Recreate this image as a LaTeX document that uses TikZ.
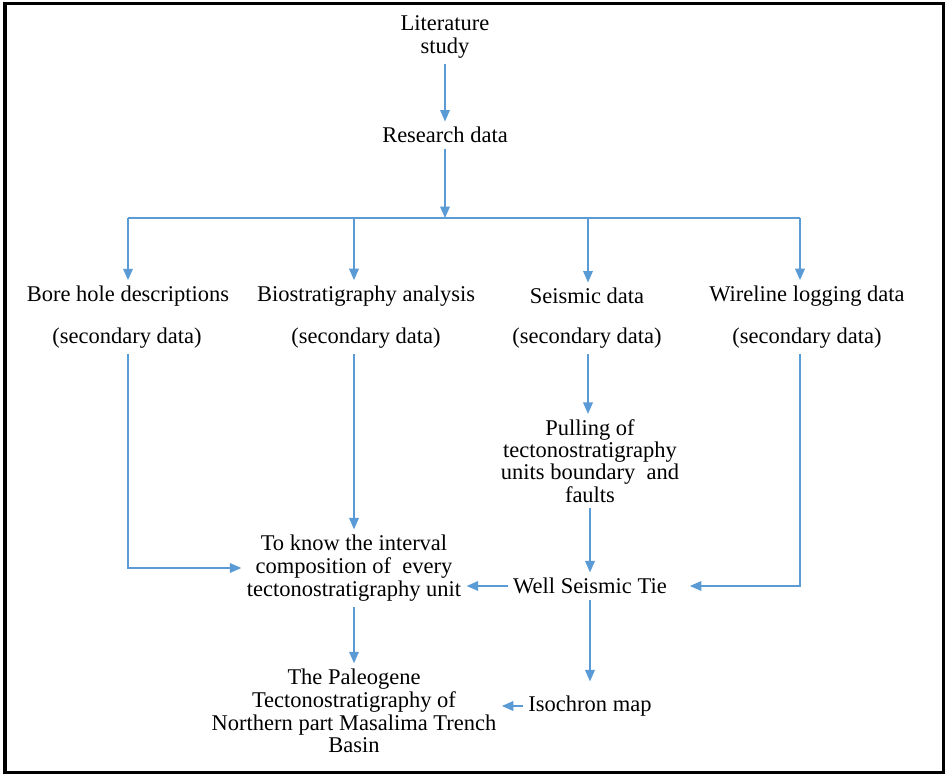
\documentclass[tikz,border=0pt]{standalone}
\usepackage{fontspec}
\setmainfont{Liberation Serif}
\usepackage{tikz}
\usetikzlibrary{arrows.meta, positioning, calc}
\definecolor{lineblue}{RGB}{91,155,213}

\begin{document}
\begin{tikzpicture}[x=0.02cm, y=-0.02cm,
    lbl/.style={align=center, inner sep=3pt, font=\fontsize{12.8}{13}\selectfont},
    arr/.style={draw=lineblue, line width=0.8pt, -{Triangle[length=6.5pt, width=5.5pt]}},
    ln/.style={draw=lineblue, line width=0.8pt}]
    \useasboundingbox (0,0) rectangle (947,776);

    % Outer frame
    \draw[line width=2pt] (5,3.5) rectangle (943.5,772.5);

    % Top of the flow
    \node[lbl] (lit) at (445,37) {Literature\\study};
    \node[lbl] (res) at (445,135) {Research data};
    \draw[arr] (lit) -- (res); % Literature study -> Research data

    % Split bar with four columns
    \coordinate (bar) at (445,218);
    \coordinate (c1) at (128,218);
    \coordinate (c2) at (354,218);
    \coordinate (c3) at (588,218);
    \coordinate (c4) at (800,218);
    \draw[arr] (res) -- (bar);
    \draw[ln] (c1) -- (c4);

    % Data sources
    \node[lbl] (bore) at (128,296) {Bore hole descriptions};
    \node[lbl] (bio) at (366,296) {Biostratigraphy analysis};
    \node[lbl] (seis) at (587,296) {Seismic data};
    \node[lbl] (wire) at (807,296) {Wireline logging data};
    \node[lbl] (boresec) at (127,338) {(secondary data)};
    \node[lbl] (biosec) at (366,338) {(secondary data)};
    \node[lbl] (seissec) at (587,338) {(secondary data)};
    \node[lbl] (wiresec) at (807,338) {(secondary data)};
    \draw[arr] (c1) -- (c1 |- bore.north);
    \draw[arr] (c2) -- (c2 |- bio.north);
    \draw[arr] (c3) -- (c3 |- seis.north);
    \draw[arr] (c4) -- (c4 |- wire.north);

    % Seismic branch
    \node[lbl, font=\fontsize{12.8}{11}\selectfont] (pull) at (590,461)
        {Pulling of\\tectonostratigraphy\\units boundary~ and\\faults};
    \node[lbl] (tie) at (590,586) {Well Seismic Tie};
    \node[lbl] (iso) at (590,706) {Isochron map};
    \draw[arr] (c3 |- seissec.south) -- (c3 |- pull.north);
    \draw[arr] (pull) -- (tie);
    \draw[arr, shorten >=5pt] (tie) -- (iso);

    % Interval composition and result
    \node[lbl] (know) at (354,568)
        {To know the interval\\composition of~ every\\tectonostratigraphy unit};
    \node[lbl] (pal) at (354,711)
        {The Paleogene\\Tectonostratigraphy of\\Northern part Masalima Trench\\Basin};
    \draw[arr] (c2 |- biosec.south) -- (c2 |- know.north);
    \draw[arr] (c1 |- boresec.south) |- (know.west);
    \draw[arr, shorten >=10pt] (c4 |- wiresec.south) |- (tie.east);
    \draw[arr] (tie.west) -- (tie.west -| know.east);
    \draw[arr] (know) -- (pal);
    \draw[arr] (iso.west) -- (iso.west -| pal.east);
\end{tikzpicture}
\end{document}
